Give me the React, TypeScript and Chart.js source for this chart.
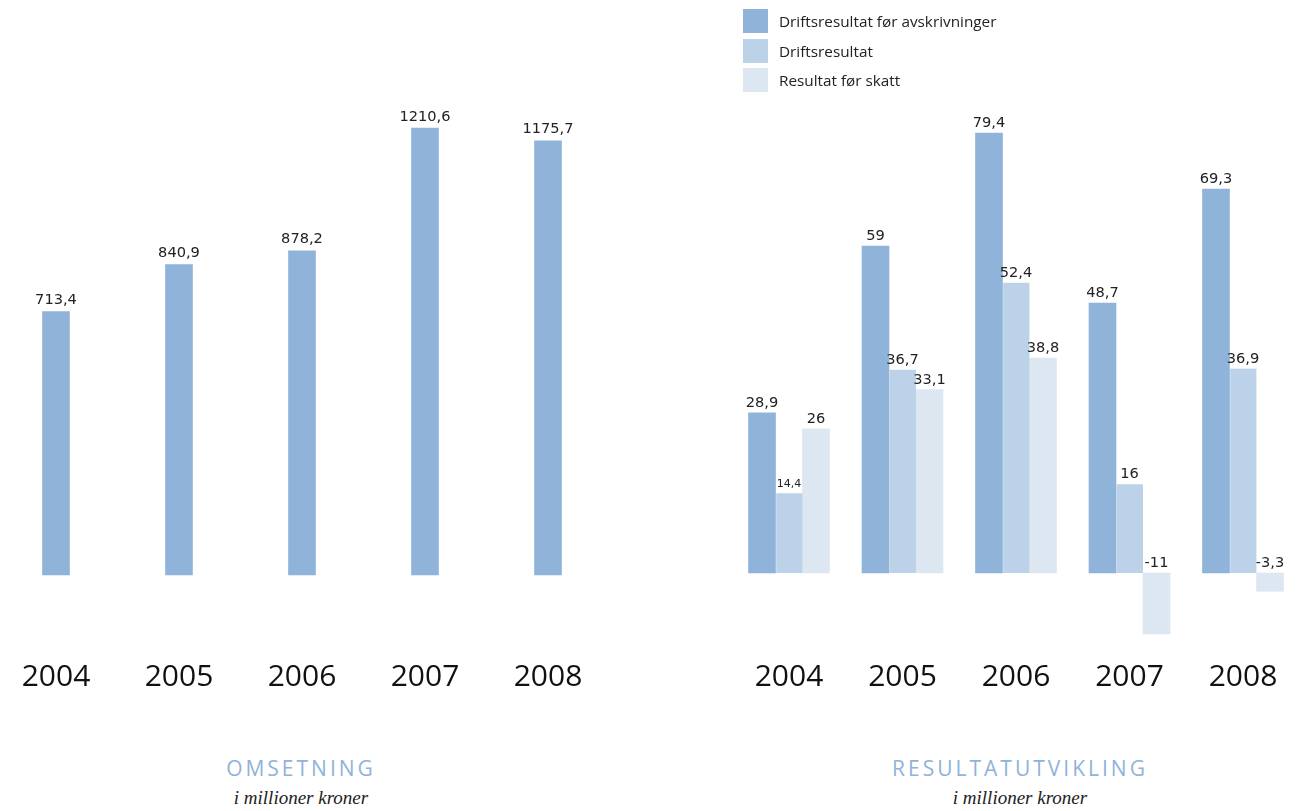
import React, { useEffect, useRef } from "react";
import { Chart, registerables } from "chart.js";

Chart.register(...registerables);

// ---------- data ----------
const years = ["2004", "2005", "2006", "2007", "2008"];
const omsetning = [713.4, 840.9, 878.2, 1210.6, 1175.7];

const seriesNames = [
  "Driftsresultat før avskrivninger",
  "Driftsresultat",
  "Resultat før skatt",
];
const driftsFoerAvskrivninger = [28.9, 59, 79.4, 48.7, 69.3];
const driftsresultat = [14.4, 36.7, 52.4, 16, 36.9];
const resultatFoerSkatt = [26, 33.1, 38.8, -11, -3.3];

const leftTitle = "OMSETNING";
const rightTitle = "RESULTATUTVIKLING";
const subTitle = "i millioner kroner";

// ---------- styles ----------
const colors = ["#8fb3d9", "#bcd2e8", "#dde7f2"];
const titleColor = "#8fb3d9";

const fmt = (v: number) => String(v).replace(".", ",");

function makeValueLabels(offset: number, sizeFor: (di: number, i: number) => number) {
  return {
    id: "valueLabels",
    afterDatasetsDraw(chart: any) {
      const ctx = chart.ctx;
      ctx.save();
      ctx.fillStyle = "#222";
      ctx.textAlign = "center";
      ctx.textBaseline = "alphabetic";
      chart.data.datasets.forEach((ds: any, di: number) => {
        const meta = chart.getDatasetMeta(di);
        meta.data.forEach((bar: any, i: number) => {
          const v = ds.data[i] as number;
          const { x, y, base } = bar.getProps(["x", "y", "base"], true);
          const top = Math.min(y, base);
          ctx.font = `${sizeFor(di, i)}px "DejaVu Sans", sans-serif`;
          ctx.fillText(fmt(v), x, top - offset);
        });
      });
      ctx.restore();
    },
  };
}

const tickFont = { family: '"Open Sans", sans-serif', size: 30 };

function LeftChart() {
  const ref = useRef<HTMLCanvasElement>(null);
  useEffect(() => {
    const chart = new Chart(ref.current!, {
      type: "bar",
      data: {
        labels: years,
        datasets: [
          {
            label: leftTitle,
            data: omsetning,
            backgroundColor: colors[0],
            barThickness: 27,
            clip: false as any,
          },
        ],
      },
      options: {
        responsive: false,
        animation: false,
        layout: { padding: { left: 56, right: 92, top: 95, bottom: 5.5 } },
        plugins: { legend: { display: false }, tooltip: { enabled: false } },
        scales: {
          x: {
            offset: false,
            grid: { display: false, drawTicks: false },
            border: { display: false },
            ticks: { font: tickFont, color: "#111", padding: 19.5, maxRotation: 0, autoSkip: false },
          },
          y: { display: false, min: -175, max: 1300 },
        },
      },
      plugins: [makeValueLabels(7.5, () => 14.6)],
    });
    return () => chart.destroy();
  }, []);
  return (
    <canvas
      ref={ref}
      width={640}
      height={720}
      style={{ position: "absolute", left: 0, top: 0, width: 640, height: 720, display: "block" }}
    />
  );
}

function RightChart() {
  const ref = useRef<HTMLCanvasElement>(null);
  useEffect(() => {
    const all = [driftsFoerAvskrivninger, driftsresultat, resultatFoerSkatt];
    const chart = new Chart(ref.current!, {
      type: "bar",
      data: {
        labels: years,
        datasets: all.map((d, k) => ({
          label: seriesNames[k],
          data: d,
          backgroundColor: colors[k],
          borderColor: "#ffffff",
          borderWidth: k === 1 ? { left: 1, right: 0, top: 0, bottom: 0 } : 0,
          borderSkipped: false,
          barThickness: 27,
          clip: false as any,
        })),
      },
      options: {
        responsive: false,
        animation: false,
        layout: { padding: { left: 89, right: 70, top: 96.5, bottom: 5.5 } },
        plugins: { legend: { display: false }, tooltip: { enabled: false } },
        scales: {
          x: {
            offset: false,
            grid: { display: false, drawTicks: false },
            border: { display: false },
            ticks: { font: tickFont, color: "#111", padding: 19.5, maxRotation: 0, autoSkip: false },
          },
          y: { display: false, min: -12, max: 86 },
        },
      },
      plugins: [makeValueLabels(6, (di, i) => (di === 1 && i === 0 ? 11 : 14.6))],
    });
    return () => chart.destroy();
  }, []);
  return (
    <canvas
      ref={ref}
      width={613}
      height={720}
      style={{ position: "absolute", left: 700, top: 0, width: 613, height: 720, display: "block" }}
    />
  );
}

function Titles({ cx, title }: { cx: number; title: string }) {
  return (
    <>
      <div
        style={{
          position: "absolute",
          left: cx - 200,
          width: 400,
          top: 754,
          height: 28,
          lineHeight: "28px",
          textAlign: "center",
          fontFamily: '"Open Sans", sans-serif',
          fontSize: 21,
          letterSpacing: 3,
          color: titleColor,
        }}
      >
        {title}
      </div>
      <div
        style={{
          position: "absolute",
          left: cx - 200,
          width: 400,
          top: 785,
          height: 26,
          lineHeight: "26px",
          textAlign: "center",
          fontFamily: '"Liberation Serif", serif',
          fontStyle: "italic",
          fontSize: 19,
          color: "#222",
          overflow: "hidden",
        }}
      >
        {subTitle}
      </div>
    </>
  );
}

function Legend() {
  return (
    <div style={{ position: "absolute", left: 743, top: 9 }}>
      {seriesNames.map((n, k) => (
        <div key={n} style={{ display: "flex", alignItems: "center", height: 24, marginBottom: 5.5 }}>
          <div style={{ width: 25, height: 24, background: colors[k] }} />
          <div
            style={{
              marginLeft: 11,
              fontFamily: '"Open Sans", sans-serif',
              fontSize: 15.3,
              color: "#222",
              whiteSpace: "nowrap",
            }}
          >
            {n}
          </div>
        </div>
      ))}
    </div>
  );
}

export default function App() {
  return (
    <div
      style={{
        position: "absolute",
        left: 0,
        top: 0,
        width: 1313,
        height: 811,
        background: "#ffffff",
        overflow: "hidden",
      }}
    >
      <LeftChart />
      <RightChart />
      <Legend />
      <Titles cx={301} title={leftTitle} />
      <Titles cx={1020} title={rightTitle} />
    </div>
  );
}
